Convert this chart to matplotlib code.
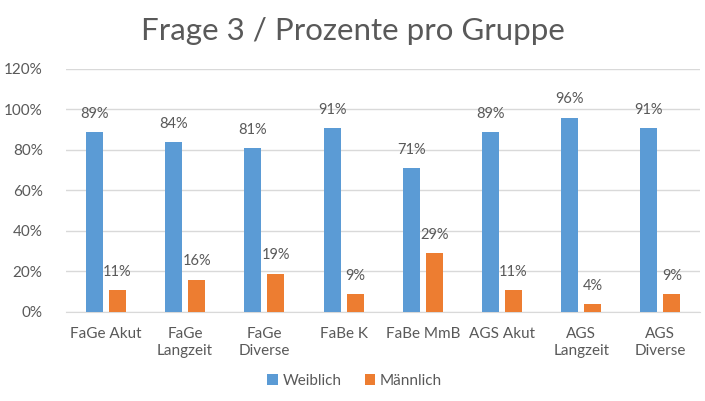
import matplotlib
matplotlib.use('Agg')
import matplotlib.pyplot as plt
import numpy as np

categories = ['FaGe Akut', 'FaGe\nLangzeit', 'FaGe\nDiverse', 'FaBe K', 'FaBe MmB',
              'AGS Akut', 'AGS\nLangzeit', 'AGS\nDiverse']
weiblich = [89, 84, 81, 91, 71, 89, 96, 91]
maennlich = [11, 16, 19, 9, 29, 11, 4, 9]
yticks = [0, 20, 40, 60, 80, 100, 120]

BLUE = '#5b9bd5'
ORANGE = '#ed7d31'
GREY = '#595959'

plt.rcParams['font.family'] = ['Lato', 'DejaVu Sans']

fig = plt.figure(figsize=(7.05, 4.01), dpi=100)
ax = fig.add_axes([0.094, 0.222, 0.899, 0.606])

x = np.arange(len(categories))
w = 0.215
off = 0.145
b1 = ax.bar(x - off, weiblich, w, color=BLUE, label='Weiblich', zorder=3)
b2 = ax.bar(x + off, maennlich, w, color=ORANGE, label='Männlich', zorder=3)

for bars, vals in ((b1, weiblich), (b2, maennlich)):
    for r, v in zip(bars, vals):
        ax.annotate(f'{v}%', (r.get_x() + r.get_width() / 2, r.get_height()),
                    xytext=(0, 8), textcoords='offset points', ha='center', va='bottom',
                    fontsize=10.5, color=GREY)

ax.set_xlim(-0.5, len(categories) - 0.5)
ax.set_ylim(0, 120)
ax.set_yticks(yticks)
ax.set_yticklabels([f'{t}%' for t in yticks])
ax.set_xticks(x)
ax.set_xticklabels(categories, linespacing=1.25)
ax.tick_params(axis='both', length=0, labelsize=11, labelcolor=GREY)
ax.tick_params(axis='y', pad=17)
ax.tick_params(axis='x', pad=11)
ax.yaxis.grid(True, color='#d9d9d9', linewidth=1, zorder=0)
for s in ['top', 'right', 'left']:
    ax.spines[s].set_visible(False)
ax.spines['bottom'].set_color('#d9d9d9')

fig.suptitle('Frage 3 / Prozente pro Gruppe', fontsize=22.5, color=GREY, y=0.958)
fig.legend(loc='center', bbox_to_anchor=(0.503, 0.05), ncol=2, frameon=False,
           fontsize=11, labelcolor=GREY, handlelength=0.7, handleheight=0.7,
           handletextpad=0.3, columnspacing=1.5)

fig.savefig('out.png', dpi=100, facecolor='white')
